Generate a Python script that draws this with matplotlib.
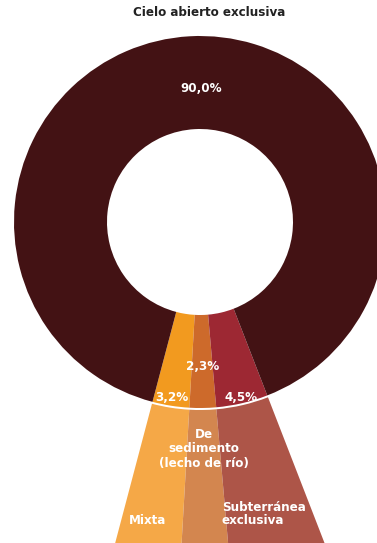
import numpy as np
import matplotlib
matplotlib.use('Agg')
import matplotlib.pyplot as plt
from matplotlib import font_manager

names = {f.name for f in font_manager.fontManager.ttflist}
narrow = [n for n in ['Liberation Sans Narrow', 'DejaVu Sans Condensed'] if n in names]
plt.rcParams['font.family'] = narrow + ['DejaVu Sans']
plt.rcParams['font.stretch'] = 'condensed'

categories = ['Mixta', 'De sedimento (lecho de río)', 'Subterránea exclusiva', 'Cielo abierto exclusiva']
values = [3.2, 2.3, 4.5, 90.0]
pct_labels = ['3,2%', '2,3%', '4,5%', '90,0%']

ring_colors = ['#f29a1f', '#cd6a2b', '#9d2833', '#431214']
flare_colors = ['#f5a847', '#d3864f', '#ad5548', 'none']

W, H = 377, 543
cx, cy = 200, H - 222
R, r = 186, 93
start = -104.8

fig = plt.figure(figsize=(W / 100, H / 100), dpi=100)
ax = fig.add_axes([0, 0, 1, 1])

# flaring extension of the small slices below the ring
ax.pie(values, colors=flare_colors, startangle=start, counterclock=True,
       center=(cx, cy), radius=R + 200,
       wedgeprops=dict(width=200 - 2, linewidth=0))

# main donut
ax.pie(values, colors=ring_colors, startangle=start, counterclock=True,
       center=(cx, cy), radius=R,
       wedgeprops=dict(width=R - r, linewidth=0))

ax.set_xlim(0, W)
ax.set_ylim(0, H)
ax.set_aspect('equal')
ax.axis('off')

# percentage labels
angles = start + np.cumsum([0] + values[:-1]) * 3.6 + np.array(values) * 1.8
angles[3] = 89.5
radii = [178, 145, 180, 134]
for a, rad, lab in zip(angles, radii, pct_labels):
    t = np.deg2rad(a)
    ax.text(cx + rad * np.cos(t), cy + rad * np.sin(t), lab, color='white',
            fontsize=9.5, fontweight='bold', ha='center', va='center')

ax.text(209, H - 13, categories[3], color='#222222', fontsize=9.5,
        fontweight='bold', ha='center', va='center')
ax.text(204, H - 449, 'De\nsedimento\n(lecho de río)', color='white', fontsize=9.5,
        fontweight='bold', ha='center', va='center', linespacing=1.2)
ax.text(147, H - 521, 'Mixta', color='white', fontsize=9.5,
        fontweight='bold', ha='center', va='center')
ax.text(222, H - 514, 'Subterránea\nexclusiva', color='white', fontsize=9.5,
        fontweight='bold', ha='left', va='center', linespacing=1.0)

fig.savefig('out.png', dpi=100)
